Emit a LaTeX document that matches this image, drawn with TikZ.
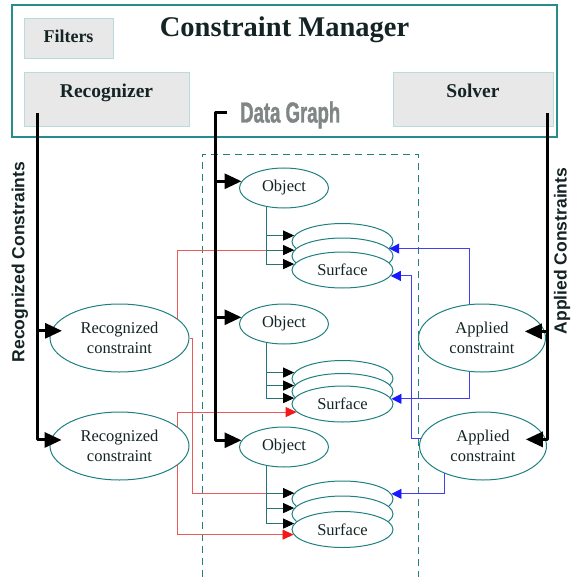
\documentclass[tikz,border=0pt]{standalone}
\usepackage{fontspec}
\setmainfont{Liberation Serif}
\newfontfamily\lsans{Liberation Sans}
\newfontfamily\lnarrowb[FakeStretch=0.64,FakeBold=1.2]{Liberation Sans Bold}
\usetikzlibrary{shapes.geometric,arrows.meta,calc}
\definecolor{framec}{rgb}{0.15,0.55,0.55}
\definecolor{txt}{rgb}{0.08,0.14,0.14}
\definecolor{boxfill}{rgb}{0.91,0.91,0.91}
\definecolor{boxline}{rgb}{0.72,0.86,0.86}
\definecolor{rline}{rgb}{0.92,0.35,0.35}
\definecolor{rhead}{rgb}{0.95,0.1,0.1}
\definecolor{bline}{rgb}{0.25,0.25,0.95}
\definecolor{bhead}{rgb}{0.1,0.1,1}
\definecolor{dgray}{rgb}{0.5,0.52,0.52}
\definecolor{ellc}{rgb}{0.12,0.5,0.5}
\definecolor{tlc}{rgb}{0.15,0.45,0.45}
\begin{document}
\begin{tikzpicture}[x=1pt,y=-1pt,
  cmbox/.style={draw=boxline, fill=boxfill, line width=0.8pt, inner sep=0pt, text=txt,
    font=\bfseries\fontsize{19.5}{22}\selectfont},
  ellbase/.style={ellipse, draw=ellc, line width=1pt, fill=white, inner sep=0pt,
    text=txt, align=center, font=\fontsize{16.5}{20}\selectfont},
  objn/.style={ellbase, minimum width=89pt, minimum height=40pt},
  surf/.style={ellbase, minimum width=101pt, minimum height=36pt},
  cons/.style={ellbase, minimum width=139pt, minimum height=68pt},
  appl/.style={ellbase, minimum width=127pt, minimum height=68pt},
  bigarr/.style={line width=3pt, line join=round, draw=black, -{Triangle[length=17pt,width=15pt]}},
  sarr/.style={line width=0.9pt, draw=tlc, -{Triangle[length=11pt,width=10pt,color=black]}},
  tline/.style={line width=0.9pt, draw=tlc},
  redl/.style={line width=0.9pt, draw=rline},
  redarr/.style={line width=0.9pt, draw=rline, -{Triangle[length=11pt,width=10pt,color=rhead]}},
  bluearr/.style={line width=0.9pt, draw=bline, -{Triangle[length=10pt,width=10pt,color=bhead]}},
  dashbox/.style={draw=ellc, line width=0.9pt, dash pattern=on 7pt off 5pt},
  sidelab/.style={rotate=90, text=txt, inner sep=0pt, font=\lsans\bfseries\fontsize{17.5}{20}\selectfont}
]
\useasboundingbox (0,0) rectangle (572,577);

% Constraint manager frame
\node[draw=framec, line width=1.2pt, minimum width=545pt, minimum height=132pt, inner sep=0pt] (cm) at (284.5,71) {};
\node[cmbox, minimum width=89pt, minimum height=40pt, text height=13pt, text depth=3.5pt,
  font=\bfseries\fontsize{18}{20}\selectfont] (filt) at (68.5,38) {Filters};
\node[text=txt, inner sep=0pt, font=\bfseries\fontsize{28.5}{30}\selectfont] (title) at (284.5,30) {Constraint Manager};
\node[cmbox, minimum width=165pt, minimum height=54pt, text height=14pt, text depth=17pt] (rec) at (106.5,99) {Recognizer};
\node[cmbox, minimum width=160pt, minimum height=54pt, text height=14pt, text depth=17pt] (sol) at (473,99) {Solver};

% Data graph dashed region
\draw[dashbox] (202,577) -- (202,154) -- (418,154) -- (418,577);

% side labels
\node[sidelab] (rclab) at (20,262) {Recognized Constraints};
\node[sidelab] (aclab) at (562,251) {Applied Constraints};

% constraint ellipses
\node[cons] (rc1) at (119.5,338) {Recognized\\constraint};
\node[cons] (rc2) at (119.5,446) {Recognized\\constraint};
\node[appl] (ac1) at (482,338) {Applied\\constraint};
\node[appl] (ac2) at (483,446) {Applied\\constraint};

% objects
\node[objn] (o1) at (284,188) {Object};
\node[objn] (o2) at (284,324) {Object};
\node[objn] (o3) at (284,447) {Object};

% surface stacks
\node[surf] (s1a) at (342.5,241.5) {};
\node[surf] (s1b) at (342.5,256) {};
\node[surf] (s1c) at (342.5,270) {Surface};
\node[surf] (s2a) at (342.5,378.5) {};
\node[surf] (s2b) at (342.5,391.5) {};
\node[surf] (s2c) at (342.5,404) {Surface};
\node[surf] (s3a) at (342.5,499) {};
\node[surf] (s3b) at (342.5,514) {};
\node[surf] (s3c) at (342.5,529.5) {Surface};

% red connectors from recognized constraints
\draw[redl] (rc1.18) |- (s1b.173);
\draw[redl] (rc1.east) -- ++(2.5,0) |- (s3a.173);
\draw[redarr] (rc2.18) |- (s2c.190);
\draw[redarr] (rc2.-18) |- (s3c.186);

% blue connectors from applied constraints
\coordinate (bx) at (411,0);
\draw[bluearr] (ac1.111) |- (s1b.9);
\draw[bluearr] (ac2.173) -- (ac2.173 -| bx) |- (s1c.-7);
\draw[bluearr] (ac1.249) |- (s2c.6);
\draw[bluearr] (ac2.215) |- (s3a.6);

% object to surfaces
\draw[tline] (o1.227) -- (o1.227 |- s1c.173);
\draw[sarr] (s1a.173 -| o1.227) -- (s1a.173);
\draw[sarr] (s1b.173 -| o1.227) -- (s1b.173);
\draw[sarr] (s1c.173 -| o1.227) -- (s1c.173);
\draw[tline] (o2.227) -- (o2.227 |- s2c.173);
\draw[sarr] (s2a.173 -| o2.227) -- (s2a.173);
\draw[sarr] (s2b.173 -| o2.227) -- (s2b.173);
\draw[sarr] (s2c.173 -| o2.227) -- (s2c.173);
\draw[tline] (o3.227) -- (o3.227 |- s3c.173);
\draw[sarr] (s3a.173 -| o3.227) -- (s3a.173);
\draw[sarr] (s3b.173 -| o3.227) -- (s3b.173);
\draw[sarr] (s3c.173 -| o3.227) -- (s3c.173);

% Data graph trunk
\node[anchor=west, inner sep=0pt, text=dgray, font=\lnarrowb\fontsize{29}{30}\selectfont] (dg) at (240,115) {Data Graph};
\coordinate (dgk) at (227,113);
\coordinate (dgx) at (215,113);
\draw[bigarr] (dgk) -- (dgx) |- (o3.171);
\draw[bigarr] (o1.171 -| dgx) -- (o1.171);
\draw[bigarr] (o2.171 -| dgx) -- (o2.171);

% Recognizer trunk
\coordinate (rk) at (37,113);
\draw[bigarr, shorten >=-11pt] (rk) |- (rc2.175);
\draw[bigarr, shorten >=-11pt] (rc1.174 -| rk) -- (rc1.174);

% Solver trunk
\coordinate (sk) at (547,113);
\draw[bigarr, shorten >=-20pt] (sk) |- (ac2.6);
\draw[bigarr, shorten >=-20pt] (ac1.6 -| sk) -- (ac1.6);
\end{tikzpicture}
\end{document}
